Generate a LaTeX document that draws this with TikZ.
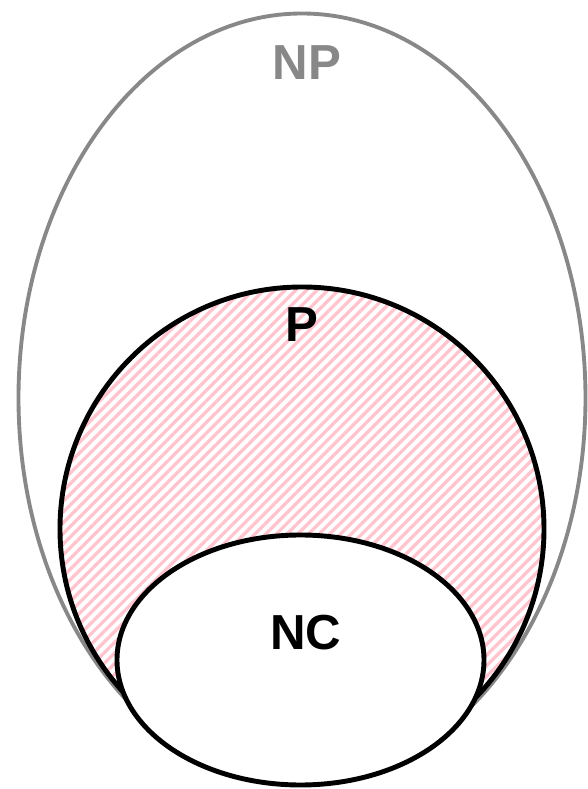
\documentclass[tikz,border=0pt]{standalone}
\usepackage{fontspec}
\setmainfont{Liberation Sans}
\usetikzlibrary{patterns.meta}
\definecolor{npgray}{RGB}{136,136,136}
\definecolor{hatchpink}{RGB}{255,196,206}

\begin{document}
\begin{tikzpicture}
\useasboundingbox (0,0) rectangle (11.76,15.78);
% outer class
\draw[npgray,line width=2.2pt] (6.04,7.82) ellipse [x radius=5.67, y radius=7.69];
% P, hatched
\draw[black,line width=2.8pt,pattern={Lines[angle=45,distance=4.3pt,line width=1.9pt]},pattern color=hatchpink] (6.04,5.20) circle [radius=4.84];
% NC
\draw[black,line width=2.8pt,fill=white] (6.01,2.58) ellipse [x radius=3.67, y radius=2.50];
\node[font=\fontsize{28}{30}\selectfont\bfseries,text=npgray,inner sep=0pt] (lnp) at (6.14,14.52) {NP};
\node[font=\fontsize{28}{30}\selectfont\bfseries,inner sep=0pt] (lp) at (6.04,9.28) {P};
\node[font=\fontsize{28}{30}\selectfont\bfseries,inner sep=0pt] (lnc) at (6.12,3.12) {NC};
\end{tikzpicture}
\end{document}
